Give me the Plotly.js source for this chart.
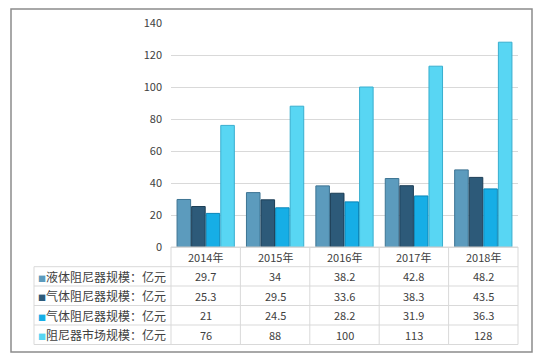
<!DOCTYPE html>
<html><head><meta charset="utf-8">
<script src="https://cdn.plot.ly/plotly-3.0.1.min.js"></script>
<style>html,body{margin:0;padding:0;background:#fff;}#c{width:550px;height:357px;}</style>
</head><body><div id="c"></div>
<script>
const years = ['2014年','2015年','2016年','2017年','2018年'];
const seriesNames = ['液体阻尼器规模：亿元','气体阻尼器规模：亿元','气体阻尼器规模：亿元','阻尼器市场规模：亿元'];
const liquid = [29.7, 34, 38.2, 42.8, 48.2];
const gas1 = [25.3, 29.5, 33.6, 38.3, 43.5];
const gas2 = [21, 24.5, 28.2, 31.9, 36.3];
const market = [76, 88, 100, 113, 128];
const seriesValues = [liquid, gas1, gas2, market];
const fills = ['#5c9bbd','#2d5a79','#16aee6','#58d6f3'];
const borders = ['#3d7493','#1b3d55','#0a86b8','#38aecf'];

// pixel geometry helpers (plot area: x 171..518, y 23..247)
const L=171, R=518, T=23, B=247;
const W=R-L, H=B-T;
const px = x => (x-L)/W;
const py = y => (B-y)/H;

const traces = seriesValues.map((v,i)=>({
  type:'bar', x:years, y:v, name:seriesNames[i],
  marker:{color:fills[i], line:{color:borders[i], width:1}},
  hoverinfo:'skip'
}));

const rowLines = [247, 266.7, 286, 305.5, 325, 344.5];
const colLines = [171, 240.4, 309.8, 379.2, 448.6, 518];
const shapes = [];
// outer frame
shapes.push({type:'rect', xref:'paper', yref:'paper', x0:px(11), x1:px(532), y0:py(352), y1:py(9), line:{color:'#8c8c8c', width:1.5}});
// horizontal table lines
rowLines.forEach((y,i)=>{
  shapes.push({type:'line', xref:'paper', yref:'paper', x0: i<1 ? px(171) : px(34), x1:px(518), y0:py(y), y1:py(y), line:{color:'#d9d9d9', width:1}});
});
// vertical table lines
colLines.forEach(x=>{
  shapes.push({type:'line', xref:'paper', yref:'paper', x0:px(x), x1:px(x), y0:py(247), y1:py(344.5), line:{color:'#d9d9d9', width:1}});
});
shapes.push({type:'line', xref:'paper', yref:'paper', x0:px(34), x1:px(34), y0:py(266.7), y1:py(344.5), line:{color:'#d9d9d9', width:1}});

const annotations = [];
const fnt = {family:'"Noto Sans CJK SC", sans-serif', size:11, color:'#404040'};
years.forEach((yr,j)=>{
  annotations.push({xref:'x', yref:'paper', x:j, y:py(257), text:yr, showarrow:false, font:fnt, xanchor:'center', yanchor:'middle'});
});
seriesValues.forEach((vals,i)=>{
  const yc = (rowLines[i+1]+rowLines[i+2])/2;
  vals.forEach((v,j)=>{
    annotations.push({xref:'x', yref:'paper', x:j, y:py(yc), text:String(v), showarrow:false, font:fnt, xanchor:'center', yanchor:'middle'});
  });
  annotations.push({xref:'paper', yref:'paper', x:px(36), y:py(yc), xanchor:'left', yanchor:'middle', showarrow:false,
    text:'<span style="color:'+fills[i]+';font-size:8px">■</span>'+seriesNames[i],
    font:{family:'"Noto Sans CJK SC", sans-serif', size:12, color:'#404040'}});
});

const layout = {
  width:550, height:357,
  margin:{l:L, r:550-R, t:T, b:357-B, pad:0},
  paper_bgcolor:'#fff', plot_bgcolor:'#fff',
  showlegend:false,
  barmode:'group', bargap:0.16, bargroupgap:0.07,
  xaxis:{showticklabels:false, ticks:'', showgrid:false, showline:true, linecolor:'#d9d9d9', linewidth:1, fixedrange:true},
  yaxis:{range:[0,140], dtick:20, showgrid:true, gridcolor:'#d9d9d9', gridwidth:1, zeroline:false, showline:false,
    ticks:'', ticklabelstandoff:8, tickfont:{family:'"Noto Sans CJK SC", sans-serif', size:11, color:'#404040'}},
  shapes:shapes, annotations:annotations
};
Plotly.newPlot('c', traces, layout, {displayModeBar:false, staticPlot:true});
</script></body></html>
